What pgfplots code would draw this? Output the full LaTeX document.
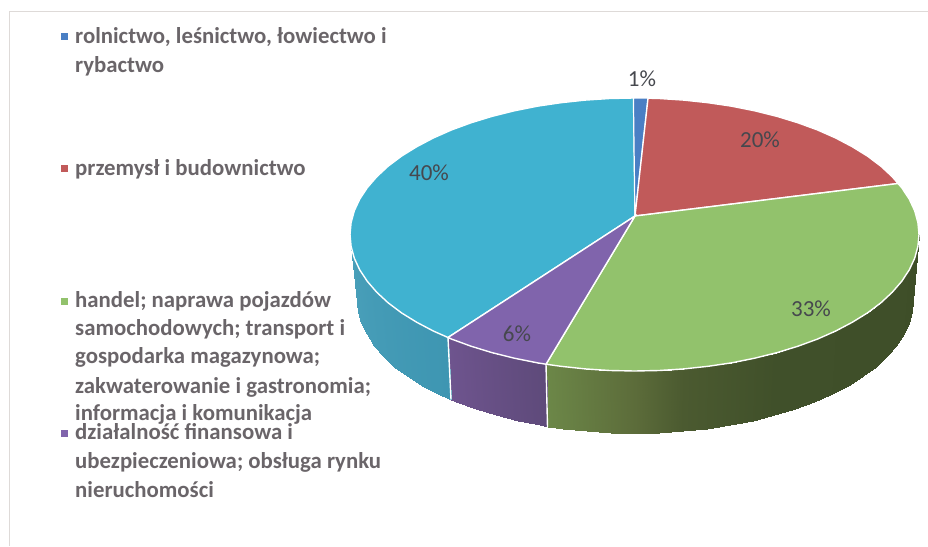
\documentclass[border=0pt]{standalone}
\usepackage{pgfplots}
\pgfplotsset{compat=1.18}
\usepackage{fontspec}
\setmainfont{Carlito}
\definecolor{cTeal}{RGB}{64,178,208}
\definecolor{cRed}{RGB}{193,90,90}
\definecolor{cGreen}{RGB}{146,194,108}
\definecolor{cPurple}{RGB}{128,100,172}
\definecolor{cBlue}{RGB}{74,127,196}
\definecolor{txt}{RGB}{106,101,105}
\definecolor{pct}{RGB}{70,72,78}
\definecolor{frame}{RGB}{222,218,216}
\tikzset{
  tx/.style={anchor=base west, inner sep=0pt, text=txt, font=\fontsize{22.8}{26}\selectfont\bfseries},
  pc/.style={anchor=center, inner sep=0pt, text=pct, font=\fontsize{23}{26}\selectfont},
}
\begin{document}
\begin{tikzpicture}
\begin{axis}[
  scale only axis, width=928pt, height=546pt,
  xmin=0, xmax=928, ymin=0, ymax=546, y dir=reverse,
  axis line style={draw=none}, ticks=none,
  point meta min=0, point meta max=380,
  colormap={side}{
    rgb255(0)=(62,78,40) rgb255(60)=(64,80,42) rgb255(80)=(75,90,48)
    rgb255(90)=(92,108,58) rgb255(108)=(108,135,72)
    rgb255(208)=(94,74,122) rgb255(231)=(110,84,142)
    rgb255(331)=(62,150,178) rgb255(380)=(74,160,186)},
]
% frame
\addplot[frame, line width=1.2pt] coordinates {(9.5,546)(9.5,11.5)(928,11.5)};

% side of the pie: upper rim point and lower rim point for each step
\addplot[surf, shader=interp, point meta=explicit, mesh/rows=23, mesh/cols=2] table[meta=c] {
x y c
919.0 234.5 0
913.0 300.0 0
917.9 246.4 5
911.9 311.6 5
914.7 258.2 10
908.8 323.1 10
909.3 269.8 15
903.5 334.4 15
901.8 281.2 20
896.2 345.5 20
892.3 292.2 25
887.0 356.2 25
880.9 302.8 30
875.8 366.5 30
867.6 312.8 35
862.7 376.3 35
852.4 322.2 40
848.0 385.5 40
835.7 331.0 45
831.6 394.0 45
817.4 339.1 50
813.7 401.9 50
797.7 346.3 55
794.5 409.0 55
776.8 352.7 60
774.0 415.2 60
754.7 358.2 65
752.5 420.5 65
731.8 362.8 70
730.1 425.0 70
708.1 366.3 75
706.9 428.5 75
683.9 368.9 80
683.3 431.0 80
659.3 370.5 85
659.2 432.5 85
634.5 371.0 90
635.0 433.0 90
609.7 370.5 95
610.8 432.5 95
585.1 368.9 100
586.7 431.0 100
560.9 366.3 105
563.1 428.5 105
546.0 364.2 108
547.5 427.0 108
};
\addplot[surf, shader=interp, point meta=explicit, mesh/rows=7, mesh/cols=2] table[meta=c] {
x y c
546.0 364.2 208
547.5 427.0 208
537.2 362.8 210
539.9 425.0 210
514.3 358.2 215
517.5 420.5 215
492.2 352.7 220
496.0 415.2 220
471.3 346.3 225
475.5 409.0 225
451.6 339.1 230
456.3 401.9 230
448.0 337.5 231
451.0 399.5 231
};
\addplot[surf, shader=interp, point meta=explicit, mesh/rows=11, mesh/cols=2] table[meta=c] {
x y c
448.0 337.5 331
451.0 399.5 331
433.3 331.0 335
438.4 394.0 335
416.6 322.2 340
422.0 385.5 340
401.4 312.8 345
407.3 376.3 345
388.1 302.8 350
394.2 366.5 350
376.7 292.2 355
383.0 356.2 355
367.2 281.2 360
373.8 345.5 360
359.7 269.8 365
366.5 334.4 365
354.3 258.2 370
361.2 323.1 370
351.1 246.4 375
358.1 311.6 375
350.0 234.5 380
357.0 300.0 380
};
\addplot[white, line width=1.4pt] coordinates {(546.0,364.2)(547.5,427.0)};
\addplot[white, line width=1.4pt] coordinates {(448.0,337.5)(451.0,399.5)};

% top of the pie
\addplot[fill=cTeal, draw=white, line width=1.4pt] coordinates {
(635,216)(448.0,337.5)(433.3,331.0)(416.6,322.2)(401.4,312.8)(388.1,302.8)(376.7,292.2)(367.2,281.2)(359.7,269.8)(354.3,258.2)(351.1,246.4)(350.0,234.5)
(351.1,222.6)(354.3,210.8)(359.7,199.2)(367.2,187.8)(376.7,176.8)(388.1,166.2)(401.4,156.2)(416.6,146.8)(433.3,138.0)(451.6,129.9)(471.3,122.7)(492.2,116.3)(514.3,110.8)(537.2,106.2)(560.9,102.7)(585.1,100.1)(609.7,98.5)(633.5,98.0)} -- cycle;
\addplot[fill=cBlue, draw=white, line width=1pt] coordinates {(635,216)(633.5,98.0)(648.0,98.2)} -- cycle;
\addplot[fill=cRed, draw=white, line width=1.4pt] coordinates {
(635,216)(648.0,98.2)(659.3,98.5)(683.9,100.1)(708.1,102.7)(731.8,106.2)(754.7,110.8)(776.8,116.3)(797.7,122.7)(817.4,129.9)(835.7,138.0)(852.4,146.8)(867.6,156.2)(880.9,166.2)(892.3,176.8)(898.0,183.5)} -- cycle;
\addplot[fill=cGreen, draw=white, line width=1.4pt] coordinates {
(635,216)(898.0,183.5)(901.8,187.8)(909.3,199.2)(914.7,210.8)(917.9,222.6)(919.0,234.5)(917.9,246.4)(914.7,258.2)(909.3,269.8)(901.8,281.2)(892.3,292.2)(880.9,302.8)(867.6,312.8)(852.4,322.2)(835.7,331.0)(817.4,339.1)(797.7,346.3)(776.8,352.7)(754.7,358.2)(731.8,362.8)(708.1,366.3)(683.9,368.9)(659.3,370.5)(634.5,371.0)(609.7,370.5)(585.1,368.9)(560.9,366.3)(546.0,364.2)} -- cycle;
\addplot[fill=cPurple, draw=white, line width=1.4pt] coordinates {
(635,216)(546.0,364.2)(537.2,362.8)(514.3,358.2)(492.2,352.7)(471.3,346.3)(451.6,339.1)(448.0,337.5)} -- cycle;

% legend keys
\addplot[cBlue, only marks, mark=square*, mark size=3pt] coordinates {(64,36)};
\addplot[cRed, only marks, mark=square*, mark size=3pt] coordinates {(64,168)};
\addplot[cGreen, only marks, mark=square*, mark size=3pt] coordinates {(64,301)};
\addplot[cPurple, only marks, mark=square*, mark size=3pt] coordinates {(64,433)};

% legend text
\node[tx] at (axis cs:75,43) {rolnictwo, leśnictwo, łowiectwo i};
\node[tx] at (axis cs:75,72) {rybactwo};
\node[tx] at (axis cs:75,175) {przemysł i budownictwo};
\node[tx] at (axis cs:75,307) {handel; naprawa pojazdów};
\node[tx] at (axis cs:75,335) {samochodowych; transport i};
\node[tx] at (axis cs:75,363) {gospodarka magazynowa;};
\node[tx] at (axis cs:75,393) {zakwaterowanie i gastronomia;};
\node[tx] at (axis cs:75,420) {informacja i komunikacja};
\node[tx] at (axis cs:75,439) {działalność finansowa i};
\node[tx] at (axis cs:75,468) {ubezpieczeniowa; obsługa rynku};
\node[tx] at (axis cs:75,497) {nieruchomości};

% percentage labels
\node[pc] at (axis cs:642,79) {1\%};
\node[pc] at (axis cs:760,140) {20\%};
\node[pc] at (axis cs:811,309) {33\%};
\node[pc] at (axis cs:517,334) {6\%};
\node[pc] at (axis cs:429,173) {40\%};
\end{axis}
\end{tikzpicture}
\end{document}
